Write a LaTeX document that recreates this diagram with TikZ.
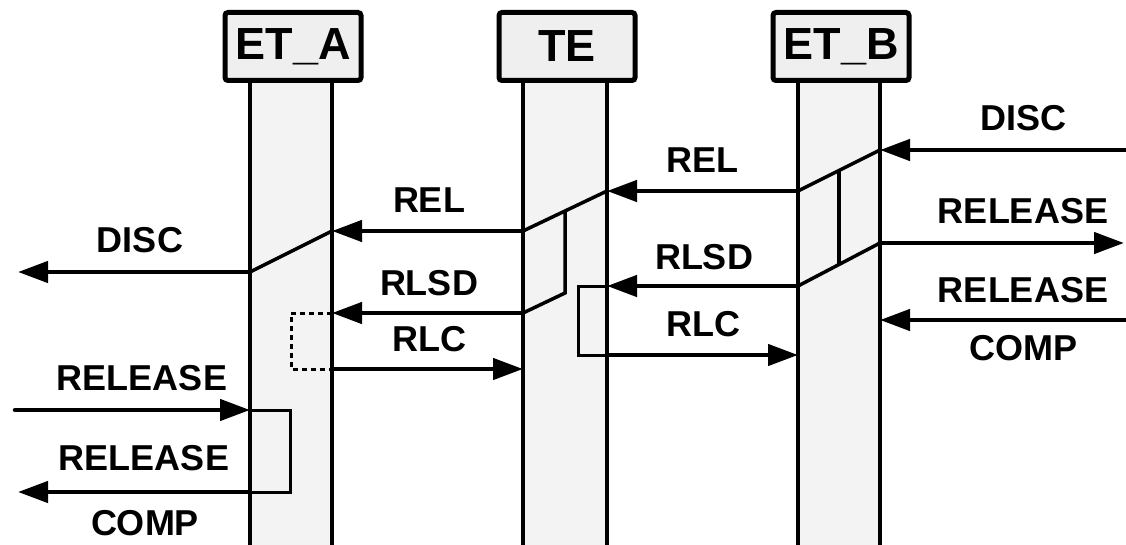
\documentclass[tikz,border=0pt]{standalone}
\usepackage{fontspec}
\setmainfont{Liberation Sans}
\usetikzlibrary{arrows.meta,calc}
\definecolor{lanefill}{HTML}{F3F3F3}
\definecolor{headfill}{HTML}{EFEFEF}
\tikzset{
  msg/.style={line width=4.5pt,line cap=round,-{Triangle[length=30pt,width=21pt]}},
  lbl/.style={inner sep=0pt,font=\fontsize{36}{40}\selectfont\bfseries},
  head/.style={draw,line width=5pt,rounded corners=3pt,fill=headfill,inner sep=0pt,
    minimum width=136pt,minimum height=68pt,font=\fontsize{45}{50}\selectfont\bfseries},
  slant/.style={line width=3.5pt},
  hold/.style={line width=3pt},
}
\begin{document}
\begin{tikzpicture}[x=1pt,y=-1pt]
\useasboundingbox (0,0) rectangle (1126,545);

% lanes
\foreach \n/\t/\l/\r in {eta/ET\_A/250/332,te/TE/523/607,etb/ET\_B/798/880}{
\fill[lanefill] (\l,83) rectangle (\r,560);
\draw[line width=4.5pt] (\l,83) -- (\l,560) (\r,83) -- (\r,560);
\node[head] (\n) at ({(\l+\r)/2+2},46.5) {\t};
}

% points on ET_B
\coordinate (etbDiscIn) at (880,150);
\coordinate (etbRelOut) at (798,191);
\coordinate (etbRelsOut) at (880,243);
\coordinate (etbRlsdOut) at (798,286);
\coordinate (etbCompIn) at (880,320);
\coordinate (etbRlcIn) at (798,355);
% points on TE
\coordinate (teRelIn) at (607,191);
\coordinate (teRelOut) at (523,231);
\coordinate (teTick) at (565,293);
\coordinate (teRlsdIn) at (607,286);
\coordinate (teRlsdOut) at (523,313);
\coordinate (teRlcOut) at (607,355);
\coordinate (teRlcIn) at (523,369);
% points on ET_A
\coordinate (etaRelIn) at (332,231);
\coordinate (etaDiscOut) at (250,272);
\coordinate (etaRlsdIn) at (332,313);
\coordinate (etaRlcOut) at (332,369);
\coordinate (etaRelsIn) at (250,410);
\coordinate (etaCompOut) at (250,492);
% free ends
\coordinate (rDisc) at (1126,150);
\coordinate (rRels) at (1124,243);
\coordinate (rComp) at (1126,320);
\coordinate (lDisc) at (18,272);
\coordinate (lRels) at (15,410);
\coordinate (lComp) at (18,492);

% messages
\draw[msg] (rDisc) -- (etbDiscIn);
\draw[msg] (etbRelOut) -- (teRelIn);
\draw[msg] (teRelOut) -- (etaRelIn);
\draw[msg] (etaDiscOut) -- (lDisc);
\draw[msg] (etbRelsOut) -- (rRels);
\draw[msg] (etbRlsdOut) -- (teRlsdIn);
\draw[msg] (teRlsdOut) -- (etaRlsdIn);
\draw[msg] (rComp) -- (etbCompIn);
\draw[msg] (teRlcOut) -- (etbRlcIn);
\draw[msg] (etaRlcOut) -- (teRlcIn);
\draw[msg] (lRels) -- (etaRelsIn);
\draw[msg] (etaCompOut) -- (lComp);

% processing inside the lanes
\begin{scope}[slant]
\draw (etbDiscIn) -- (etbRelOut);
\draw (etbRelsOut) -- (etbRlsdOut);
\draw ($(etbDiscIn)!0.5!(etbRelOut)$) -- ($(etbRelsOut)!0.5!(etbRlsdOut)$);
\draw (teRelIn) -- (teRelOut);
\draw ($(teRelIn)!0.5!(teRelOut)$) -- (teTick) -- (teRlsdOut);
\draw (etaRelIn) -- (etaDiscOut);
\end{scope}

\begin{scope}[hold]
\draw (teRlsdIn) -- (578,286) -- (578,355) -- (teRlcOut);
\draw[dash pattern=on 5pt off 4pt] (etaRlsdIn) -- (291,313) -- (291,369) -- (etaRlcOut);
\draw (etaRelsIn) -- (290,410) -- (290,492) -- (etaCompOut);
\end{scope}

% labels
\node[lbl] (tDiscB) at (1023,118) {DISC};
\node[lbl] (tRelB) at (702,160) {REL};
\node[lbl] (tRelA) at (429,200) {REL};
\node[lbl] (tDiscA) at (140,240) {DISC};
\node[lbl] (tRelsB) at (1023,211) {RELEASE};
\node[lbl] (tRlsdB) at (704,257) {RLSD};
\node[lbl] (tRlsdA) at (429,283) {RLSD};
\node[lbl] (tCompB) at (1023,290) {RELEASE};
\node[lbl] (tCompB2) at (1023,348) {COMP};
\node[lbl] (tRlcB) at (703,324) {RLC};
\node[lbl] (tRlcA) at (429,339) {RLC};
\node[lbl] (tRelsA) at (142,378) {RELEASE};
\node[lbl] (tCompA) at (144,458) {RELEASE};
\node[lbl] (tCompA2) at (145,523) {COMP};
\end{tikzpicture}
\end{document}
